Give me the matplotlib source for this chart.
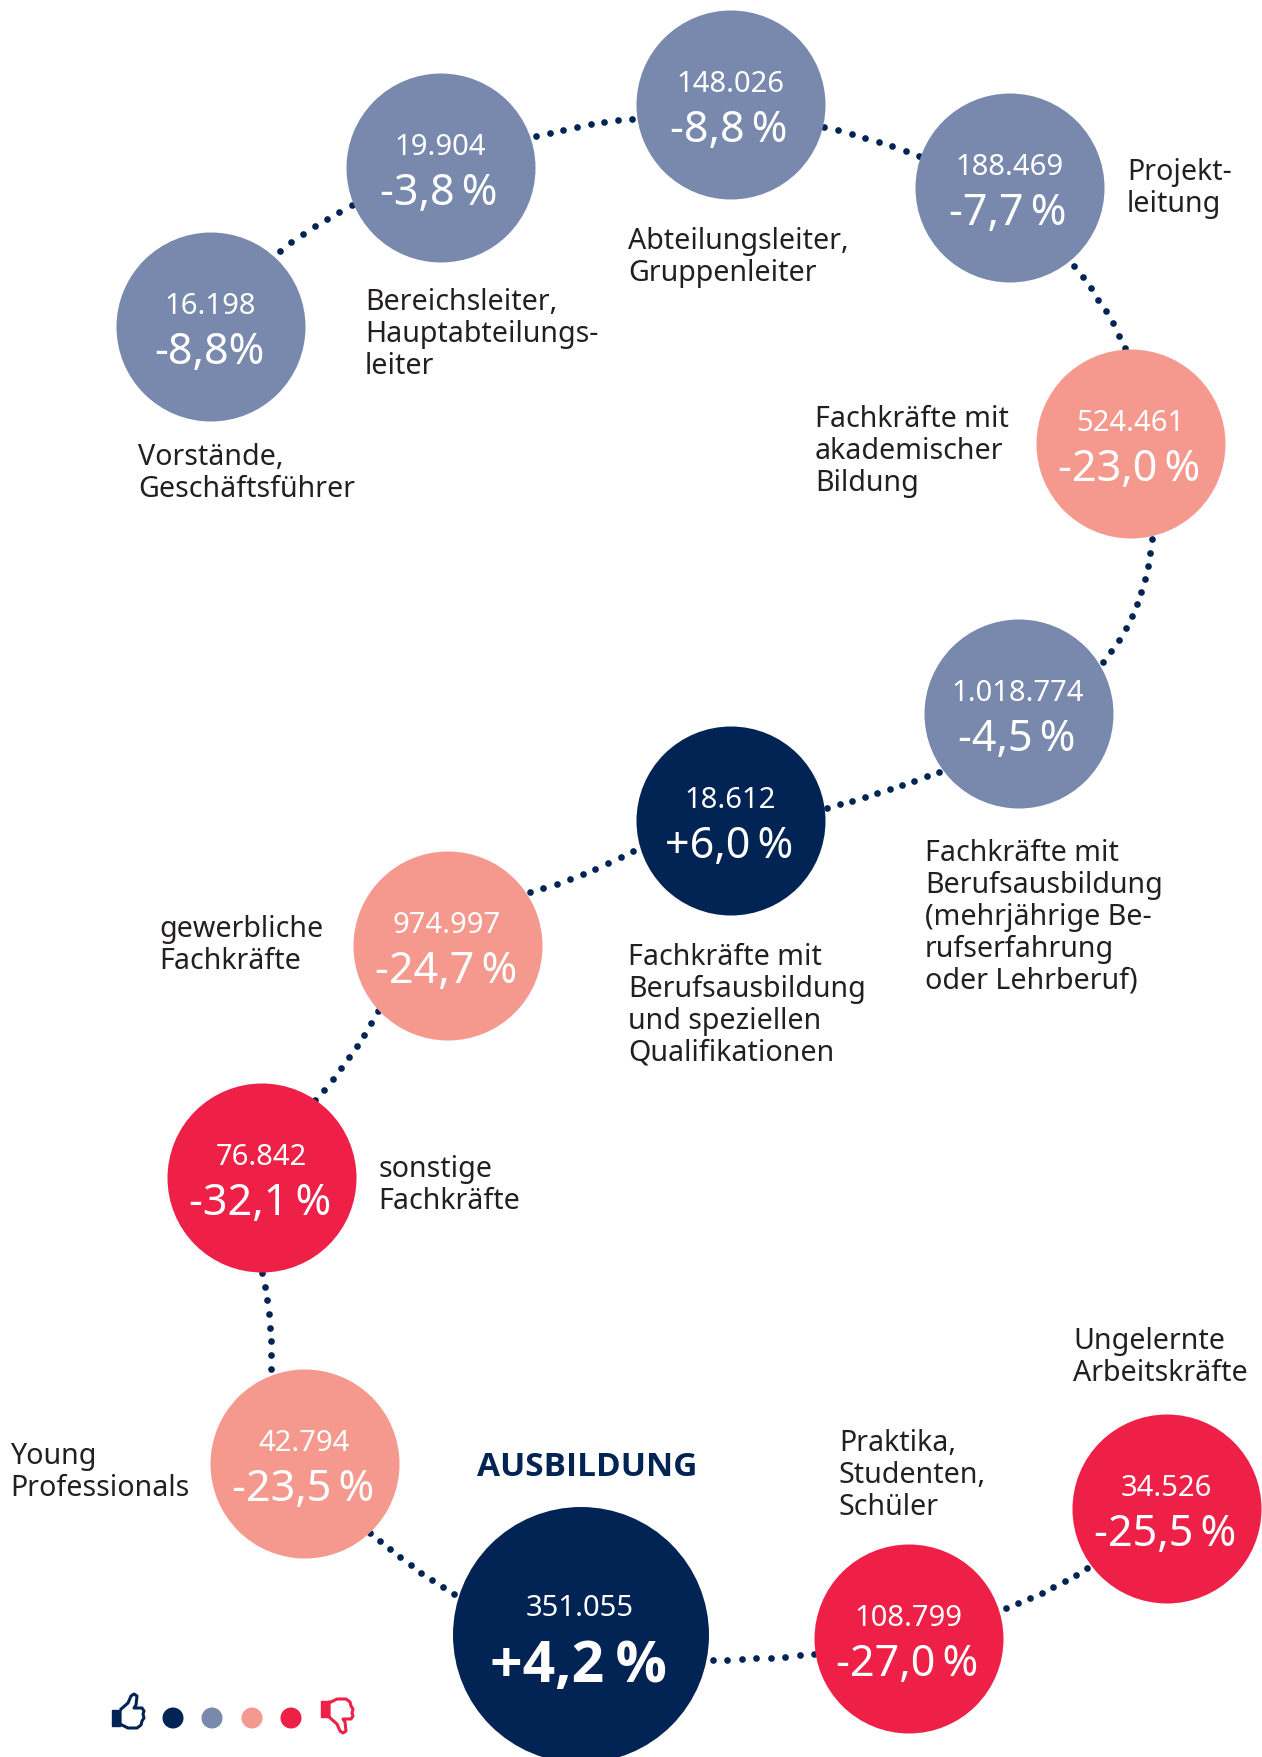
import matplotlib
matplotlib.use('Agg')
import matplotlib.pyplot as plt
import numpy as np
from matplotlib.patches import Circle, PathPatch
from matplotlib.path import Path

plt.rcParams['font.family'] = ['Noto Sans', 'DejaVu Sans']

# data, in path order from the top left to the bottom right
counts = ['16.198', '19.904', '148.026', '188.469', '524.461', '1.018.774', '18.612',
          '974.997', '76.842', '42.794', '351.055', '108.799', '34.526']
changes = ['-8,8%', '-3,8\u2009%', '-8,8\u2009%', '-7,7\u2009%', '-23,0\u2009%', '-4,5\u2009%', '+6,0\u2009%',
           '-24,7\u2009%', '-32,1\u2009%', '-23,5\u2009%', '+4,2\u2009%', '-27,0\u2009%', '-25,5\u2009%']
tiers = [1, 1, 1, 1, 2, 1, 0, 2, 3, 2, 0, 3, 3]
labels = ['Vorstände,\nGeschäftsführer',
          'Bereichsleiter,\nHauptabteilungs-\nleiter',
          'Abteilungsleiter,\nGruppenleiter',
          'Projekt-\nleitung',
          'Fachkräfte mit\nakademischer\nBildung',
          'Fachkräfte mit\nBerufsausbildung\n(mehrjährige Be-\nrufserfahrung\noder Lehrberuf)',
          'Fachkräfte mit\nBerufsausbildung\nund speziellen\nQualifikationen',
          'gewerbliche\nFachkräfte',
          'sonstige\nFachkräfte',
          'Young\nProfessionals',
          '',
          'Praktika,\nStudenten,\nSchüler',
          'Ungelernte\nArbeitskräfte']

# layout in full size pixels
tier_colors = ['#012454', '#7889AD', '#F5998F', '#EF2047']
centers = [(211, 328), (441, 169), (731, 106), (1010, 189), (1131, 445), (1019, 715), (731, 822),
           (448, 947), (262, 1179), (305, 1465), (581, 1636), (909, 1640), (1167, 1510)]
radii = [94.5] * 13
radii[10] = 128
label_pos = [(138, 465), (365, 310), (628, 249), (1127, 180), (815, 427), (925, 861), (628, 965),
             (159, 937), (378, 1177), (10, 1464), (0, 0), (839, 1451), (1073, 1349)]
# start, end, bulge of each dotted link
links = [((280, 252), (352, 206), 2), ((536, 137), (632, 120), 2), ((824, 128), (919, 157), 2),
         ((1074, 267), (1125, 349), 3), ((1152, 540), (1103, 663), 10), ((939, 773), (827, 809), 1),
         ((633, 852), (530, 893), 3), ((378, 1012), (315, 1101), 3), ((262, 1274), (271, 1370), 3),
         ((370, 1534), (454, 1595), -2), ((713, 1661), (814, 1655), -1), ((1006, 1609), (1087, 1569), -2)]

fig = plt.figure(figsize=(12.62, 17.58), dpi=100)
ax = fig.add_axes([0, 0, 1, 1])
ax.set_xlim(0, 1262)
ax.set_ylim(1758, 0)
ax.axis('off')

for (p0, p1, bulge) in links:
    p0, p1 = np.array(p0, float), np.array(p1, float)
    normal = np.array([p1[1] - p0[1], p0[0] - p1[0]]) / np.hypot(*(p1 - p0))
    ctrl = (p0 + p1) / 2 + normal * bulge * 2
    n = int(round(np.hypot(*(p1 - p0)) / 13.5)) + 1
    t = np.linspace(0, 1, n)[:, None]
    pts = (1 - t) ** 2 * p0 + 2 * t * (1 - t) * ctrl + t ** 2 * p1
    ax.plot(pts[:, 0], pts[:, 1], 'o', ms=4.8, mew=0, color=tier_colors[0], zorder=1)

for i, (cx, cy) in enumerate(centers):
    ax.add_patch(Circle((cx, cy), radii[i], fc=tier_colors[tiers[i]], ec='none', zorder=2))
    big = i == 10
    ax.text(cx - 1, cy - (20 if big else 14), counts[i], color='white', fontsize=21,
            ha='center', va='baseline', zorder=3)
    if big:
        ax.text(cx - 3, cy + 46, changes[i], color='white', fontsize=41, family='Open Sans',
                fontweight='bold', ha='center', va='baseline', zorder=3)
    else:
        ax.text(cx - 2, cy + 36, changes[i], color='white', fontsize=31, ha='center', va='baseline', zorder=3)
    if labels[i]:
        for j, line in enumerate(labels[i].split('\n')):
            ax.text(label_pos[i][0], label_pos[i][1] + j * 32, line, color='#231F20', fontsize=20.6,
                    ha='left', va='baseline')

ax.text(587, 1476, 'AUSBILDUNG', color=tier_colors[0], fontsize=24, family='Open Sans', fontweight='bold',
        ha='center', va='baseline')

# colour scale with thumbs at both ends
for x, c in zip([173, 212, 252, 291], tier_colors):
    ax.add_patch(Circle((x, 1719), 10.5, fc=c, ec='none'))

thumb = np.array([(-8, -3), (0, -10), (3, -17), (6, -19), (9, -17), (8, -8), (6, -5), (14, -5), (16, -2),
                  (15, 1), (16, 5), (14, 8), (13, 12), (9, 15), (0, 15), (-6, 12), (-8, 12), (-8, -3)], float)
cuff = np.array([(-16, -3), (-8, -3), (-8, 13), (-16, 13), (-16, -3)], float)


def draw_thumb(cx, cy, flip, color):
    scale = np.array([1, flip])
    ax.add_patch(PathPatch(Path(thumb * scale + (cx, cy)), fc='none', ec=color, lw=2.2, joinstyle='round'))
    ax.add_patch(PathPatch(Path(cuff * scale + (cx, cy)), fc=color, ec=color, lw=1, joinstyle='round'))


draw_thumb(128, 1714, 1, tier_colors[0])
draw_thumb(337, 1715, -1, tier_colors[3])

fig.savefig('out.png', dpi=100)
